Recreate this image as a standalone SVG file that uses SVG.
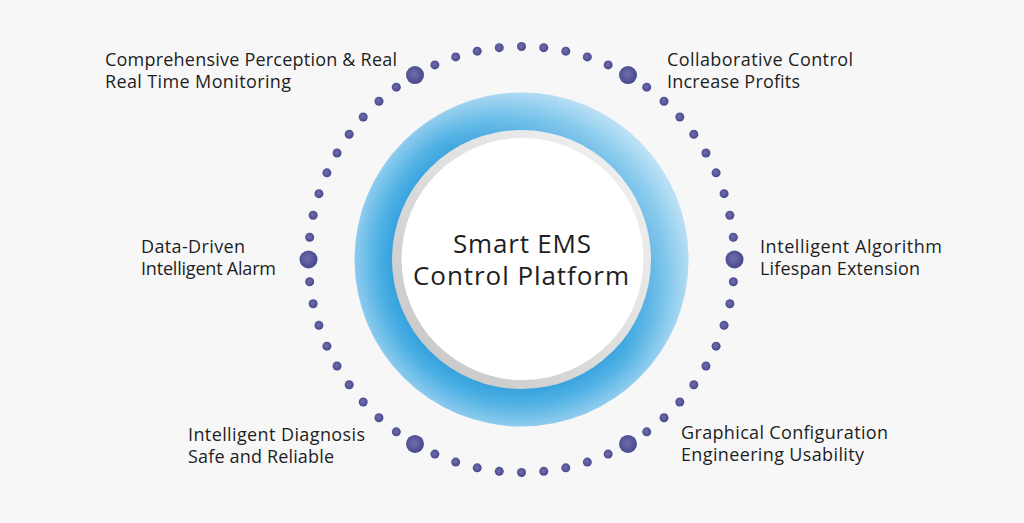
<svg xmlns="http://www.w3.org/2000/svg" width="1024" height="523" viewBox="0 0 1024 523">
<defs>
<radialGradient id="blueG" cx="521.5" cy="259.5" r="167" gradientUnits="userSpaceOnUse">
<stop offset="0.76" stop-color="#2f9edd"/>
<stop offset="0.86" stop-color="#4aafe3"/>
<stop offset="1" stop-color="#8ccbee"/>
</radialGradient>
<linearGradient id="sheen" x1="0.15" y1="0.85" x2="0.9" y2="0.2">
<stop offset="0" stop-color="#ffffff" stop-opacity="0"/>
<stop offset="0.55" stop-color="#ffffff" stop-opacity="0.05"/>
<stop offset="1" stop-color="#ffffff" stop-opacity="0.45"/>
</linearGradient>
<linearGradient id="grayG" x1="0.1" y1="0.9" x2="0.9" y2="0.1">
<stop offset="0" stop-color="#c8c8c8"/>
<stop offset="0.5" stop-color="#dedede"/>
<stop offset="1" stop-color="#f0f0f0"/>
</linearGradient>
<radialGradient id="dotG" cx="0.45" cy="0.45" r="0.6">
<stop offset="0" stop-color="#6f6fae"/>
<stop offset="1" stop-color="#44448a"/>
</radialGradient>
</defs>
<style>
.sd{fill:url(#dotG)}
.ld{fill:url(#dotG)}
.lbl{font-family:"Open Sans","Noto Sans",sans-serif;font-size:18px;fill:#1e1e1e}
.ctr{font-family:"Open Sans","Noto Sans",sans-serif;font-size:26px;fill:#1e1e1e;text-anchor:middle}
</style>
<rect x="0" y="0" width="1024" height="523" fill="#f7f7f8"/>

<g id="connectors">
<circle class="sd" r="4.5" cx="521.5" cy="46.5"/>
<circle class="sd" r="4.5" cx="543.76" cy="47.67"/>
<circle class="sd" r="4.5" cx="565.79" cy="51.15"/>
<circle class="sd" r="4.5" cx="587.32" cy="56.93"/>
<circle class="sd" r="4.5" cx="608.13" cy="64.91"/>
<circle class="sd" r="4.5" cx="646.70" cy="87.18"/>
<circle class="sd" r="4.5" cx="664.02" cy="101.21"/>
<circle class="sd" r="4.5" cx="679.79" cy="116.98"/>
<circle class="sd" r="4.5" cx="693.82" cy="134.30"/>
<circle class="sd" r="4.5" cx="705.96" cy="153.0"/>
<circle class="sd" r="4.5" cx="716.09" cy="172.87"/>
<circle class="sd" r="4.5" cx="724.07" cy="193.68"/>
<circle class="sd" r="4.5" cx="729.85" cy="215.21"/>
<circle class="sd" r="4.5" cx="733.33" cy="237.24"/>
<circle class="sd" r="4.5" cx="733.33" cy="281.76"/>
<circle class="sd" r="4.5" cx="729.85" cy="303.79"/>
<circle class="sd" r="4.5" cx="724.07" cy="325.32"/>
<circle class="sd" r="4.5" cx="716.09" cy="346.13"/>
<circle class="sd" r="4.5" cx="705.96" cy="366.0"/>
<circle class="sd" r="4.5" cx="693.82" cy="384.70"/>
<circle class="sd" r="4.5" cx="679.79" cy="402.02"/>
<circle class="sd" r="4.5" cx="664.02" cy="417.79"/>
<circle class="sd" r="4.5" cx="646.70" cy="431.82"/>
<circle class="sd" r="4.5" cx="608.13" cy="454.09"/>
<circle class="sd" r="4.5" cx="587.32" cy="462.07"/>
<circle class="sd" r="4.5" cx="565.79" cy="467.85"/>
<circle class="sd" r="4.5" cx="543.76" cy="471.33"/>
<circle class="sd" r="4.5" cx="521.5" cy="472.5"/>
<circle class="sd" r="4.5" cx="499.24" cy="471.33"/>
<circle class="sd" r="4.5" cx="477.21" cy="467.85"/>
<circle class="sd" r="4.5" cx="455.68" cy="462.07"/>
<circle class="sd" r="4.5" cx="434.87" cy="454.09"/>
<circle class="sd" r="4.5" cx="396.30" cy="431.82"/>
<circle class="sd" r="4.5" cx="378.98" cy="417.79"/>
<circle class="sd" r="4.5" cx="363.21" cy="402.02"/>
<circle class="sd" r="4.5" cx="349.18" cy="384.70"/>
<circle class="sd" r="4.5" cx="337.04" cy="366.0"/>
<circle class="sd" r="4.5" cx="326.91" cy="346.13"/>
<circle class="sd" r="4.5" cx="318.93" cy="325.32"/>
<circle class="sd" r="4.5" cx="313.15" cy="303.79"/>
<circle class="sd" r="4.5" cx="309.67" cy="281.76"/>
<circle class="sd" r="4.5" cx="309.67" cy="237.24"/>
<circle class="sd" r="4.5" cx="313.15" cy="215.21"/>
<circle class="sd" r="4.5" cx="318.93" cy="193.68"/>
<circle class="sd" r="4.5" cx="326.91" cy="172.87"/>
<circle class="sd" r="4.5" cx="337.04" cy="153.0"/>
<circle class="sd" r="4.5" cx="349.18" cy="134.30"/>
<circle class="sd" r="4.5" cx="363.21" cy="116.98"/>
<circle class="sd" r="4.5" cx="378.98" cy="101.21"/>
<circle class="sd" r="4.5" cx="396.30" cy="87.18"/>
<circle class="sd" r="4.5" cx="434.87" cy="64.91"/>
<circle class="sd" r="4.5" cx="455.68" cy="56.93"/>
<circle class="sd" r="4.5" cx="477.21" cy="51.15"/>
<circle class="sd" r="4.5" cx="499.24" cy="47.67"/>
</g>

<g id="center">
<circle cx="521.5" cy="259.5" r="167" fill="url(#blueG)"/>
<circle cx="521.5" cy="259.5" r="167" fill="url(#sheen)"/>
<circle cx="521.5" cy="259.5" r="129.5" fill="url(#grayG)"/>
<circle cx="522.5" cy="259" r="121" fill="#ffffff"/>
<text class="ctr" x="522" y="252.5" textLength="138">Smart EMS</text>
<text class="ctr" x="521" y="285" textLength="216">Control Platform</text>
</g>

<g id="node-perception">
<circle class="ld" r="9" cx="415" cy="75.04"/>
<text class="lbl" x="105" y="66" textLength="292">Comprehensive Perception &amp; Real</text>
<text class="lbl" x="105" y="88" textLength="186">Real Time Monitoring</text>
</g>

<g id="node-collaborative">
<circle class="ld" r="9" cx="628" cy="75.04"/>
<text class="lbl" x="667" y="65.5" textLength="186">Collaborative Control</text>
<text class="lbl" x="667" y="88" textLength="133">Increase Profits</text>
</g>

<g id="node-alarm">
<circle class="ld" r="9" cx="308.5" cy="259.5"/>
<text class="lbl" x="141" y="253" textLength="104">Data-Driven</text>
<text class="lbl" x="141" y="275" textLength="135">Intelligent Alarm</text>
</g>

<g id="node-algorithm">
<circle class="ld" r="9" cx="734.5" cy="259.5"/>
<text class="lbl" x="760" y="253" textLength="182">Intelligent Algorithm</text>
<text class="lbl" x="760" y="275" textLength="160">Lifespan Extension</text>
</g>

<g id="node-diagnosis">
<circle class="ld" r="9" cx="415" cy="443.96"/>
<text class="lbl" x="188" y="441" textLength="177">Intelligent Diagnosis</text>
<text class="lbl" x="188" y="463" textLength="146">Safe and Reliable</text>
</g>

<g id="node-graphical">
<circle class="ld" r="9" cx="628" cy="443.96"/>
<text class="lbl" x="681" y="439" textLength="207">Graphical Configuration</text>
<text class="lbl" x="681" y="461" textLength="183">Engineering Usability</text>
</g>
</svg>
